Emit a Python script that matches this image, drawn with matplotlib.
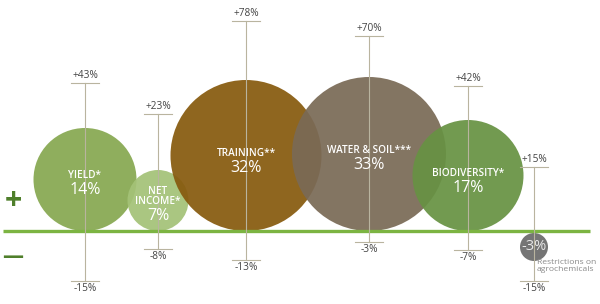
import matplotlib.pyplot as plt
from matplotlib.patches import Circle

plt.rcParams['font.family'] = ['Open Sans', 'DejaVu Sans']

categories = ["YIELD*", "NET\nINCOME*", "TRAINING**", "WATER & SOIL***", "BIODIVERSITY*", "Restrictions on\nagrochemicals"]
values = [14, 7, 32, 33, 17, -3]        # average change (%)
upper = [43, 23, 78, 70, 42, 15]        # best case (%)
lower = [-15, -8, -13, -3, -7, -15]     # worst case (%)

# --- layout (pixel-like units, infographic is not to scale) ---
x_pos = [85, 158, 246, 369, 468, 534]
radius = [51.5, 30.5, 75.5, 77, 55.5, 14]
top_y = [83, 114, 21, 36, 86, 167]
bottom_y = [281, 249, 260, 242, 250, 281]
text_dy = [0, 5, 2, 0, 2, 0]
colors = ["#87a851", "#a4c277", "#875a0e", "#7a6a56", "#679243", "#6a6a6a"]
base_y = 231

fig = plt.figure(figsize=(6, 3.04), dpi=100)
ax = fig.add_axes([0, 0, 1, 1])
ax.set_xlim(0, 600)
ax.set_ylim(304, 0)
ax.set_aspect("equal")
ax.axis("off")

# bubbles (drawn in order so later ones sit on top)
for i, (x, r, v) in enumerate(zip(x_pos, radius, values)):
    cy = base_y - r if v > 0 else base_y + r + 2
    ax.add_patch(Circle((x, cy), r, fc=colors[i], ec="none", alpha=0.93, zorder=2 + i * 0.1))

# range lines with caps and labels
line_c = "#b9b49f"
for x, t, b, hi, lo in zip(x_pos, top_y, bottom_y, upper, lower):
    ax.plot([x, x], [t, b], color=line_c, lw=0.8, zorder=4)
    ax.plot([x - 14, x + 14], [t, t], color=line_c, lw=0.8, zorder=4)
    ax.plot([x - 14, x + 14], [b, b], color=line_c, lw=0.8, zorder=4)
    ax.text(x, t - 2, f"+{hi}%", ha="center", va="bottom", fontsize=7.3, color="#444444", zorder=5)
    ax.text(x, b + 2, f"{lo}%", ha="center", va="top", fontsize=7.3, color="#444444", zorder=5)

# baseline
ax.plot([3, 590], [base_y, base_y], color="#7cb442", lw=2.4, solid_capstyle="butt", zorder=3)

# labels inside bubbles
for i, (x, r, v, name) in enumerate(zip(x_pos, radius, values, categories)):
    if v > 0:
        cy = base_y - r + text_dy[i]
        ax.text(x, cy + 2, name, ha="center", va="bottom", fontsize=7.2, color="white",
                fontweight="semibold", linespacing=1.0, zorder=6)
        ax.text(x, cy + 3, f"{v}%", ha="center", va="top", fontsize=11.5, color="white", zorder=6)
    else:
        cy = base_y + r + 2
        ax.text(x, cy, f"{v}%", ha="center", va="center", fontsize=10.5, color="#e8e8e8", zorder=6)
        ax.text(x + 3, cy + 12, name, ha="left", va="top", fontsize=6.1, color="#8a8a8a",
                linespacing=1.05, zorder=6)

# plus / minus markers
ax.text(13, 201, "+", ha="center", va="center", fontsize=22, fontweight="bold", color="#4f7f2b")
ax.text(13, 257, "\u2014", ha="center", va="center", fontsize=15, fontweight="bold", color="#4f7f2b")

fig.savefig("out.png", dpi=100)
